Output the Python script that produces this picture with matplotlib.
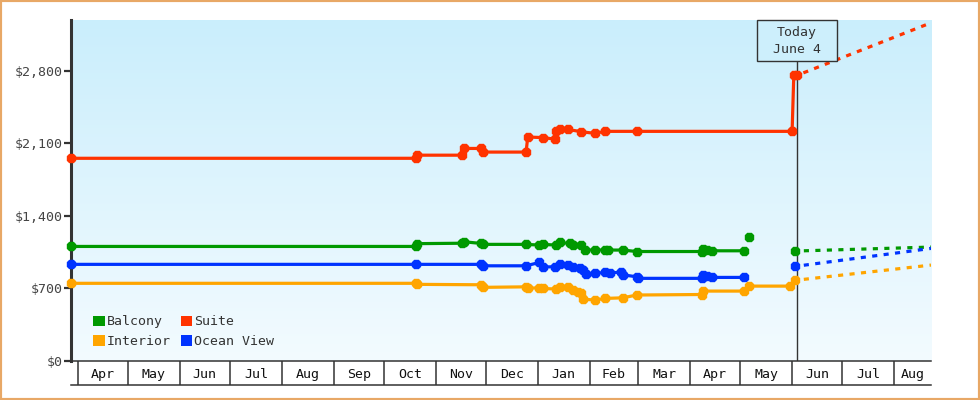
import matplotlib
matplotlib.use('Agg')
import matplotlib.pyplot as plt
import matplotlib.dates as mdates
import matplotlib.transforms as mtransforms
from matplotlib.patches import Rectangle, Patch
from matplotlib.colors import LinearSegmentedColormap
import numpy as np

plt.rcParams['font.family'] = ['DejaVu Sans Mono']
plt.rcParams['font.size'] = 9.5

nan = np.nan

# observed prices (NaN breaks the line)
suite_dates = ['2023-03-28', '2023-10-20', '2023-10-21', '2023-11-17', '2023-11-18',
               '2023-11-28', '2023-11-29', '2023-12-25', '2023-12-26', '2024-01-04',
               '2024-01-11', '2024-01-12', '2024-01-14', '2024-01-19', '2024-01-27',
               '2024-02-04', '2024-02-10', '2024-02-29', '2024-06-01', '2024-06-02',
               '2024-06-04']
suite_prices = [1955, 1955, 1985, 1985, 2050, 2050, 2015, 2015, 2160, 2155,
                2140, 2220, 2237, 2234, 2211, 2196, 2215, 2215, 2215, 2756,
                2756]

balcony_dates = ['2023-03-28', '2023-10-20', '2023-10-21', '2023-11-17', '2023-11-18',
                 '2023-11-28', '2023-11-29', '2023-12-25', '2024-01-02', '2024-01-04',
                 '2024-01-12', '2024-01-14', '2024-01-20', '2024-01-22', '2024-01-27',
                 '2024-01-29', '2024-02-04', '2024-02-10', '2024-02-12', '2024-02-21',
                 '2024-02-29', '2024-04-08', '2024-04-09', '2024-04-11', '2024-04-14',
                 '2024-05-03', '2024-05-04', '2024-05-06', '2024-05-07', '2024-06-03']
balcony_prices = [1104, 1104, 1131, 1135, 1149, 1133, 1124, 1124, 1117, 1124,
                  1117, 1143, 1133, 1117, 1117, 1069, 1069, 1069, 1069, 1069,
                  1055, 1055, 1080, 1068, 1062, 1062, nan, 1191, nan, 1060]

interior_dates = ['2023-03-28', '2023-10-20', '2023-10-21', '2023-11-28', '2023-11-29',
                  '2023-12-25', '2023-12-26', '2024-01-02', '2024-01-04', '2024-01-12',
                  '2024-01-14', '2024-01-19', '2024-01-22', '2024-01-25', '2024-01-27',
                  '2024-01-28', '2024-02-04', '2024-02-10', '2024-02-21', '2024-02-29',
                  '2024-04-08', '2024-04-09', '2024-05-03', '2024-05-06', '2024-05-31',
                  '2024-06-03']
interior_prices = [748, 748, 738, 734, 709, 714, 699, 705, 699, 692,
                   714, 714, 683, 666, 651, 596, 586, 602, 608, 635,
                   640, 673, 673, 721, 721, 779]

ocean_dates = ['2023-03-28', '2023-10-20', '2023-11-28', '2023-11-29', '2023-12-25',
               '2024-01-02', '2024-01-04', '2024-01-11', '2024-01-14', '2024-01-19',
               '2024-01-22', '2024-01-26', '2024-01-28', '2024-01-30', '2024-02-04',
               '2024-02-10', '2024-02-13', '2024-02-20', '2024-02-21', '2024-02-29',
               '2024-03-01', '2024-04-08', '2024-04-09', '2024-04-11', '2024-04-14',
               '2024-05-03', '2024-05-04', '2024-06-03']
ocean_prices = [931, 931, 931, 917, 917, 950, 905, 908, 931, 924,
                908, 898, 876, 834, 844, 853, 844, 860, 830, 811,
                796, 796, 825, 815, 805, 805, nan, 914]

# projected prices from today to end of view
forecast_dates = ['2024-06-04', '2024-08-23']
suite_forecast = [2756, 3263]
balcony_forecast = [1060, 1098]
interior_forecast = [779, 924]
ocean_forecast = [914, 1085]

month_names = ['Apr', 'May', 'Jun', 'Jul', 'Aug', 'Sep', 'Oct', 'Nov', 'Dec',
               'Jan', 'Feb', 'Mar', 'Apr', 'May', 'Jun', 'Jul', 'Aug']
month_starts = ['2023-04-01', '2023-05-01', '2023-06-01', '2023-07-01', '2023-08-01',
                '2023-09-01', '2023-10-01', '2023-11-01', '2023-12-01', '2024-01-01',
                '2024-02-01', '2024-03-01', '2024-04-01', '2024-05-01', '2024-06-01',
                '2024-07-01', '2024-08-01']
y_ticks = [0, 700, 1400, 2100, 2800]
today = '2024-06-04'

colors = {'Balcony': '#009900', 'Suite': '#ff3300',
          'Interior': '#ffa500', 'Ocean View': '#0033ff'}

x_start = mdates.datestr2num('2023-03-28')
x_end = mdates.datestr2num('2024-08-23')

fig = plt.figure(figsize=(9.8, 4.0), dpi=100)
ax = fig.add_axes([0.0724, 0.098, 0.8776, 0.852])

# background gradient
bg = LinearSegmentedColormap.from_list('bg', ['#caeefc', '#f3fbff'])
ax.imshow(np.linspace(0, 1, 256).reshape(-1, 1), cmap=bg, extent=[0, 1, 0, 1],
          transform=ax.transAxes, aspect='auto', zorder=0)

series = [
    ('Suite', suite_dates, suite_prices, suite_forecast),
    ('Balcony', balcony_dates, balcony_prices, balcony_forecast),
    ('Ocean View', ocean_dates, ocean_prices, ocean_forecast),
    ('Interior', interior_dates, interior_prices, interior_forecast),
]
fx = mdates.datestr2num(forecast_dates)
for name, d, p, fc in series:
    c = colors[name]
    ax.plot(mdates.datestr2num(d), p, color=c, lw=2.3, marker='8', ms=6.5,
            mec=c, zorder=3, clip_on=False)
    ax.plot(fx, fc, color=c, lw=2.3, linestyle=(1.5, (1.6, 2.0)), zorder=2)

ax.set_xlim(x_start, x_end)
ax.set_ylim(0, 3290)

# y axis
ax.set_yticks(y_ticks)
ax.set_yticklabels(['\\$' + f'{v:,}' for v in y_ticks])
ax.tick_params(axis='y', length=5, width=1.6, color='#333333', pad=1,
               labelcolor='#444444', labelsize=9.5)

# month boxes along the bottom
tick_len = 17.5
starts = mdates.datestr2num(month_starts)
ax.set_xticks(starts)
ax.tick_params(axis='x', which='major', length=tick_len, width=1.1,
               color='#333333', labelbottom=False)
bounds = list(starts) + [x_end]
mids = [(bounds[i] + min(bounds[i + 1], x_end)) / 2 for i in range(len(starts))]
ax.set_xticks(mids, minor=True)
ax.set_xticklabels(month_names, minor=True)
ax.tick_params(axis='x', which='minor', length=0, pad=5, labelcolor='#111111',
               labelsize=9.5)
off = mtransforms.ScaledTranslation(0, -tick_len / 72, fig.dpi_scale_trans)
ax.plot([0, 1], [0, 0], transform=ax.transAxes + off, color='#333333', lw=1.1,
        clip_on=False)

for s in ['top', 'right']:
    ax.spines[s].set_visible(False)
ax.spines['left'].set_linewidth(2.2)
ax.spines['left'].set_color('#333333')
ax.spines['bottom'].set_linewidth(1.1)
ax.spines['bottom'].set_color('#333333')

# today marker
tnum = mdates.datestr2num(today)
blend = mtransforms.blended_transform_factory(ax.transData, ax.transAxes)
box_bottom = 0.8805
ax.plot([tnum, tnum], [0, box_bottom], transform=blend, color='#333333', lw=1,
        zorder=2.5)
half_w = 23.9
ax.add_patch(Rectangle((tnum - half_w, box_bottom), 2 * half_w, 1 - box_bottom,
                       transform=blend, facecolor='#cdeffc', edgecolor='#333333',
                       lw=1, zorder=4, clip_on=False))
ax.text(tnum, 0.9620, 'Today', transform=blend, ha='center', va='center',
        color='#333333', zorder=5)
ax.text(tnum, 0.9130, 'June 4', transform=blend, ha='center', va='center',
        color='#333333', zorder=5)

# legend
order = ['Balcony', 'Interior', 'Suite', 'Ocean View']
handles = [Patch(facecolor=colors[n], edgecolor='none', label=n) for n in order]
ax.legend(handles=handles, ncol=2, loc='lower left', bbox_to_anchor=(0.0185, 0.018),
          frameon=False, handlelength=0.85, handleheight=0.85, handletextpad=0.15,
          columnspacing=0.8, labelspacing=0.5, borderpad=0, labelcolor='#333333',
          fontsize=9.5)

fig.add_artist(Rectangle((0, 0), 1, 1, transform=fig.transFigure, fill=False,
                         edgecolor='#e8a866', lw=3))

fig.savefig('out.png', dpi=100)
